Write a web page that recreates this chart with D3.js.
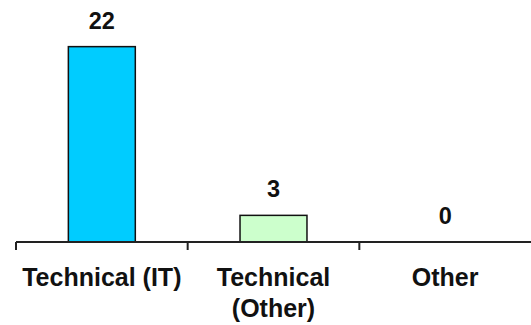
<!DOCTYPE html>
<html><head><meta charset="utf-8">
<script src="https://cdn.jsdelivr.net/npm/d3@7"></script>
<style>
html,body{margin:0;padding:0;background:#fff;}
svg text{font-family:"Liberation Sans",Arial,sans-serif;font-weight:bold;fill:#111;}
</style></head>
<body>
<svg id="chart" width="531" height="325"></svg>
<script>
const categories = ["Technical (IT)", "Technical (Other)", "Other"];
const values = [22, 3, 0];
const colors = ["#00CCFF", "#CCFFCC", "#CCFFCC"];
const yDomainMax = 25;

const svg = d3.select("#chart");
const axisY = 242;
const x = d3.scaleBand().domain(categories).range([16, 531]).paddingInner(0).paddingOuter(0);
const y = d3.scaleLinear().domain([0, yDomainMax]).range([axisY, 20]);
const barW = x.bandwidth() * 0.39;

// bars
svg.selectAll("rect.bar").data(categories).enter().append("rect")
  .attr("class", "bar")
  .attr("x", d => x(d) + (x.bandwidth() - barW) / 2)
  .attr("y", (d, i) => y(values[i]))
  .attr("width", barW)
  .attr("height", (d, i) => axisY - y(values[i]))
  .attr("fill", (d, i) => colors[i])
  .attr("stroke", "#111")
  .attr("stroke-width", 1.5)
  .style("display", (d, i) => values[i] > 0 ? null : "none");

// value labels
svg.selectAll("text.val").data(categories).enter().append("text")
  .attr("class", "val")
  .attr("x", d => x(d) + x.bandwidth() / 2)
  .attr("y", (d, i) => y(values[i]) - 18)
  .attr("text-anchor", "middle")
  .style("font-size", "23.5px")
  .text((d, i) => values[i]);

// axis
const axisG = svg.append("g").attr("transform", `translate(0,${axisY})`)
  .call(d3.axisBottom(x).tickSize(0).tickPadding(0));
axisG.select(".domain").attr("stroke", "#222").attr("stroke-width", 2)
  .attr("d", `M16,0H531`);
axisG.selectAll(".tick text").remove();
// boundary ticks
svg.append("g").selectAll("line").data(categories).enter().append("line")
  .attr("x1", d => x(d)).attr("x2", d => x(d))
  .attr("y1", axisY).attr("y2", axisY + 8)
  .attr("stroke", "#222").attr("stroke-width", 2);

// category labels with wrapping
const labelG = svg.append("g");
categories.forEach(c => {
  const t = labelG.append("text")
    .attr("x", x(c) + x.bandwidth() / 2)
    .attr("y", axisY + 44)
    .attr("text-anchor", "middle")
    .style("font-size", "25px");
  const words = c.split(" ");
  let line = [];
  let ts = t.append("tspan").attr("x", x(c) + x.bandwidth() / 2).attr("dy", 0);
  words.forEach(w => {
    line.push(w);
    ts.text(line.join(" "));
    if (ts.node().getComputedTextLength() > x.bandwidth() - 6 && line.length > 1) {
      line.pop();
      ts.text(line.join(" "));
      line = [w];
      ts = t.append("tspan").attr("x", x(c) + x.bandwidth() / 2).attr("dy", 31).text(w);
    }
  });
});
</script>
</body></html>
